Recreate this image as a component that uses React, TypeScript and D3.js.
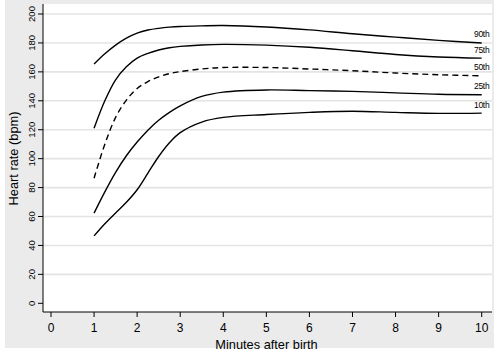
import React from "react";
import * as d3 from "d3";

const minutes = [1, 1.25, 1.5, 1.75, 2, 2.25, 2.5, 2.75, 3, 3.5, 4, 5, 6, 7, 8, 9, 10];
const p90 = [165.4, 172.5, 178.5, 183.3, 186.8, 188.9, 190.1, 190.9, 191.4, 191.8, 192, 191, 189, 186.3, 184, 181.8, 180];
const p75 = [121, 140, 154.5, 163.5, 169.5, 172.8, 175.1, 176.7, 177.6, 178.6, 179, 178.5, 177, 174.6, 172, 170.3, 169.5];
const p50 = [86.5, 110, 128.5, 140.5, 148.5, 153.3, 156.5, 158.8, 160.2, 162, 163, 163, 162, 160.8, 159.2, 158, 157.3];
const p25 = [62.3, 77, 90.5, 102, 111.5, 119.7, 126.5, 132, 136.5, 143, 146, 147.5, 147, 146.5, 145.5, 144.5, 144.2];
const p10 = [46.6, 55, 62.5, 69.8, 78.5, 90, 101.5, 111, 118, 125.3, 128.5, 130.5, 132, 132.8, 132, 131.3, 131.5];

const seriesNames = ["90th", "75th", "50th", "25th", "10th"];
const seriesValues = [p90, p75, p50, p25, p10];
const xTicks = [0, 1, 2, 3, 4, 5, 6, 7, 8, 9, 10];
const yTicks = [0, 20, 40, 60, 80, 100, 120, 140, 160, 180, 200];

export default function App() {
  const W = 500, H = 354;
  const plotL = 43, plotR = 492, plotT = 4, plotB = 312;
  const x = d3.scaleLinear().domain([0, 10]).range([51, 481.7]);
  const y = d3.scaleLinear().domain([0, 200]).range([303.3, 14]);
  const line = d3
    .line<number>()
    .x((_, i) => x(minutes[i]))
    .y((d) => y(d))
    .curve(d3.curveCatmullRom.alpha(0.5));
  const font = "'Liberation Sans', Arial, Helvetica, sans-serif";

  return (
    <svg
      width={W}
      height={H}
      style={{ position: "absolute", left: 0, top: 0 }}
      fontFamily={font}
    >
      <rect x={0} y={0} width={W} height={H} fill="#ffffff" />
      <rect x={5} y={0} width={489} height={348} fill="#ebebeb" />
      <rect x={plotL} y={plotT} width={plotR - plotL} height={plotB - plotT} fill="#ffffff" />
      {yTicks
        .filter((t) => t > 0)
        .map((t) => (
          <line
            key={"g" + t}
            x1={plotL}
            x2={plotR}
            y1={y(t)}
            y2={y(t)}
            stroke="#e4e4e4"
            strokeWidth={1.6}
          />
        ))}
      {seriesValues.map((vals, k) => (
        <path
          key={seriesNames[k]}
          d={line(vals) || ""}
          fill="none"
          stroke="#000"
          strokeWidth={1.4}
          strokeDasharray={seriesNames[k] === "50th" ? "6,4" : undefined}
        />
      ))}
      {seriesValues.map((vals, k) => (
        <text
          key={"l" + seriesNames[k]}
          x={474}
          y={y(vals[vals.length - 1]) - 5.5}
          fontSize={8.5}
          letterSpacing={-0.3}
          fill="#000"
        >
          {seriesNames[k]}
        </text>
      ))}
      <line x1={plotL} x2={plotL} y1={plotT} y2={plotB} stroke="#000" strokeWidth={1} />
      <line x1={plotL} x2={plotR} y1={plotB} y2={plotB} stroke="#000" strokeWidth={1} />
      {yTicks.map((t) => (
        <g key={"yt" + t}>
          <line x1={plotL - 5} x2={plotL} y1={y(t)} y2={y(t)} stroke="#000" strokeWidth={1} />
          <text
            transform={`translate(34.5,${y(t)}) rotate(-90)`}
            textAnchor="middle"
            fontSize={9.5}
            fill="#000"
          >
            {t}
          </text>
        </g>
      ))}
      {xTicks.map((t) => (
        <g key={"xt" + t}>
          <line x1={x(t)} x2={x(t)} y1={plotB} y2={plotB + 5} stroke="#000" strokeWidth={1} />
          <text x={x(t)} y={331.5} textAnchor="middle" fontSize={12} fill="#000">
            {t}
          </text>
        </g>
      ))}
      <text x={266.5} y={348.5} textAnchor="middle" fontSize={12.8} fill="#000">
        Minutes after birth
      </text>
      <text
        transform={`translate(17.5,158.5) rotate(-90)`}
        textAnchor="middle"
        fontSize={12.8}
        fill="#000"
      >
        Heart rate (bpm)
      </text>
    </svg>
  );
}
